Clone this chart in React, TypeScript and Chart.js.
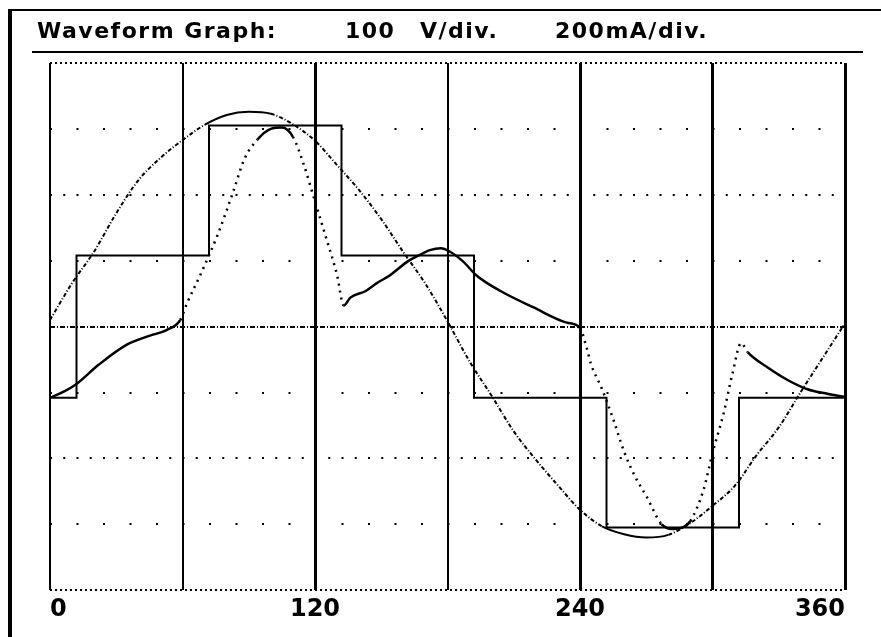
import React, { useEffect, useRef } from 'react';
import { Chart, registerables } from 'chart.js';

Chart.register(...registerables);

// ---- data ----
const xTickValues = [0, 60, 120, 180, 240, 300, 360];
const xTickLabels = ['0', '', '120', '', '240', '', '360'];
const yDivisions = [-4, -3, -2, -1, 0, 1, 2, 3, 4];
const titleParts = ['Waveform Graph:', '100', 'V/div.', '200mA/div.'];

const voltageDeg = [0, 10, 20, 30, 40, 50, 60, 70, 80, 90, 100, 110, 120, 130, 140, 150, 160, 170, 180,
  190, 200, 210, 220, 230, 240, 250, 260, 270, 280, 290, 300, 310, 320, 330, 340, 350, 360];
const voltage = [0.10, 0.66, 1.14, 1.72, 2.22, 2.56, 2.83, 3.06, 3.21, 3.26, 3.23, 3.07, 2.82, 2.45, 2.07, 1.63, 1.13, 0.65, 0.08,
  -0.53, -1.05, -1.59, -2.02, -2.41, -2.78, -3.03, -3.15, -3.20, -3.16, -2.98, -2.72, -2.42, -1.95, -1.53, -0.99, -0.47, 0.05];

const currentDeg = [0, 6, 12, 22, 35, 45, 53, 59, 62, 68, 76, 83, 88, 94, 100, 105, 110, 115, 120, 125, 130, 133,
  136, 143, 148, 154, 162, 167, 172, 177, 181, 187, 193, 204, 219, 234, 240, 243, 245, 250, 255, 260, 265, 270,
  277, 282, 287, 290, 296, 300, 305, 309, 313, 316, 325, 334, 343, 352, 360];
const current = [-1.08, -0.99, -0.87, -0.58, -0.27, -0.14, -0.05, 0.10, 0.35, 0.78, 1.40, 2.05, 2.54, 2.84, 3.00, 3.02, 2.88, 2.45, 1.90, 1.35, 0.78, 0.32,
  0.44, 0.54, 0.66, 0.78, 0.99, 1.08, 1.16, 1.19, 1.14, 0.99, 0.78, 0.54, 0.29, 0.06, -0.02, -0.32, -0.57, -0.95, -1.40, -1.90, -2.28, -2.57,
  -3.00, -3.07, -3.04, -2.95, -2.47, -1.92, -1.32, -0.72, -0.25, -0.39, -0.62, -0.81, -0.95, -1.02, -1.07];

const stepDeg = [0, 12, 72, 132, 192, 252, 312, 360];
const stepLevel = [-1.08, 1.08, 3.05, 1.08, -1.08, -3.05, -1.08, -1.08];

// ---- styles ----
const xGridWidths = [2, 2, 3, 2, 3, 3, 3];
const titleX = [37, 345, 420, 555];

function yDash(v: number): number[] {
  const a = Math.abs(v);
  if (a === 4) return [2, 3];
  if (a === 0) return [5, 2, 1, 2];
  if (a === 2) return [2, 11.25];
  return [2, 24.5];
}

function slope(c: any): number {
  const dx = c.p1.parsed.x - c.p0.parsed.x;
  if (!dx) return 999;
  return Math.abs((c.p1.parsed.y - c.p0.parsed.y) / dx);
}

const framePlugin = {
  id: 'scopeFrame',
  afterDraw(chart: any) {
    const { ctx, width, height, chartArea } = chart;
    ctx.save();
    ctx.fillStyle = '#000';
    ctx.fillRect(8, 9, width - 8, 2);
    ctx.fillRect(8, 9, 4, height - 9);
    ctx.fillRect(32, 51, chartArea.right + 18 - 32, 2);
    ctx.font = 'bold 22px "DejaVu Sans"';
    ctx.textBaseline = 'alphabetic';
    ctx.textAlign = 'left';
    (ctx as any).letterSpacing = '1.5px';
    titleParts.forEach((t, i) => ctx.fillText(t, titleX[i], 38));
    ctx.restore();
  },
};

export default function App() {
  const ref = useRef<HTMLCanvasElement>(null);

  useEffect(() => {
    const canvas = ref.current;
    if (!canvas) return;
    const chart = new Chart(canvas, {
      type: 'line',
      data: {
        datasets: [
          {
            label: 'Step',
            data: stepDeg.map((x, i) => ({ x, y: stepLevel[i] })),
            stepped: 'before',
            borderColor: '#000',
            borderWidth: 2,
            pointRadius: 0,
            fill: false,
          },
          {
            label: 'Voltage',
            data: voltageDeg.map((x, i) => ({ x, y: voltage[i] })),
            borderColor: '#000',
            borderWidth: 2,
            borderDash: [4, 2, 1, 2],
            cubicInterpolationMode: 'monotone',
            pointRadius: 0,
            fill: false,
            segment: { borderDash: (c: any) => (slope(c) < 0.015 ? [] : undefined) },
          },
          {
            label: 'Current',
            data: currentDeg.map((x, i) => ({ x, y: current[i] })),
            borderColor: '#000',
            borderWidth: 2.5,
            cubicInterpolationMode: 'monotone',
            pointRadius: 0,
            fill: false,
            segment: { borderDash: (c: any) => (slope(c) > 0.045 ? [2, 5] : undefined) },
          },
        ],
      },
      options: {
        animation: false,
        responsive: true,
        maintainAspectRatio: false,
        events: [],
        layout: { padding: { top: 63, left: 50, right: 36, bottom: 8 } },
        plugins: {
          legend: { display: false },
          tooltip: { enabled: false },
          title: { display: false },
        },
        scales: {
          x: {
            type: 'linear',
            min: 0,
            max: 360,
            afterBuildTicks: (s: any) => {
              s.ticks = xTickValues.map((v) => ({ value: v }));
            },
            ticks: {
              autoSkip: false,
              maxRotation: 0,
              align: 'inner',
              padding: 5,
              color: '#000',
              font: { family: '"DejaVu Sans"', size: 24, weight: 'bold' },
              callback: (_v: any, i: number) => xTickLabels[i],
            },
            grid: {
              color: '#000',
              lineWidth: (c: any) => xGridWidths[c.index] ?? 2,
              drawTicks: false,
            },
            border: { display: false, dash: [] },
          },
          y: {
            type: 'linear',
            min: -4,
            max: 4,
            afterBuildTicks: (s: any) => {
              s.ticks = yDivisions.map((v) => ({ value: v }));
            },
            ticks: { display: false },
            grid: { color: '#000', lineWidth: 2, drawTicks: false },
            border: {
              display: false,
              dash: (c: any) => (c.tick ? yDash(c.tick.value) : []),
            },
          },
        },
      } as any,
      plugins: [framePlugin],
    });
    return () => chart.destroy();
  }, []);

  return (
    <div style={{ position: 'fixed', left: 0, top: 0, width: 881, height: 637, background: '#fff' }}>
      <canvas ref={ref} style={{ display: 'block' }} />
    </div>
  );
}
